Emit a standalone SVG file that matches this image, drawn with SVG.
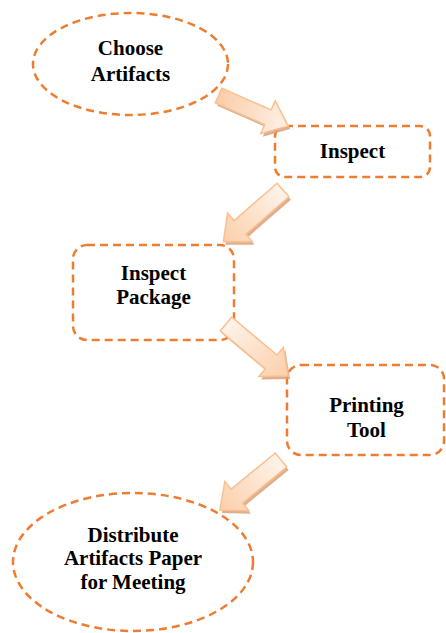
<svg xmlns="http://www.w3.org/2000/svg" width="446" height="633" viewBox="0 0 446 633">
<style>
.node{fill:#ffffff;stroke:#ED7D31;stroke-width:2.5;stroke-dasharray:8 5}
.lbl{font-family:"Liberation Serif","Times New Roman",serif;font-weight:bold;font-size:21px;fill:#000;text-anchor:middle}
.arr{stroke:#FAC090;stroke-width:1.5;stroke-linejoin:miter}
.shd{fill:#D9A07A;opacity:0.85}
</style>
<defs>
<linearGradient id="gTail" x1="0" y1="0" x2="1" y2="0">
<stop offset="0" stop-color="#FBCDA8"/>
<stop offset="1" stop-color="#FEF1E7"/>
</linearGradient>
<linearGradient id="gHead" x1="0" y1="0" x2="1" y2="0">
<stop offset="0" stop-color="#FEF3EA"/>
<stop offset="1" stop-color="#FBCFAA"/>
</linearGradient>
</defs>
<rect width="446" height="633" fill="#ffffff"/>
<g id="choose-artifacts">
<ellipse class="node" cx="130.5" cy="64" rx="97.5" ry="51"/>
<text class="lbl" x="130.5" y="55">Choose</text>
<text class="lbl" x="130.5" y="81">Artifacts</text>
</g>
<g id="inspect">
<rect class="node" x="275" y="126" width="155" height="51" rx="10"/>
<text class="lbl" x="352.5" y="158">Inspect</text>
</g>
<g id="inspect-package">
<rect class="node" x="73" y="245" width="161" height="95" rx="14"/>
<text class="lbl" x="153.5" y="280">Inspect</text>
<text class="lbl" x="153.5" y="304">Package</text>
</g>
<g id="printing-tool">
<rect class="node" x="287" y="365" width="157" height="90" rx="14"/>
<text class="lbl" x="366.5" y="412">Printing</text>
<text class="lbl" x="366.5" y="437">Tool</text>
</g>
<g id="distribute">
<ellipse class="node" cx="133" cy="562" rx="120" ry="69"/>
<text class="lbl" x="133" y="542">Distribute</text>
<text class="lbl" x="133" y="565">Artifacts Paper</text>
<text class="lbl" x="133" y="589">for Meeting</text>
</g>
<g id="connectors">
<g transform="translate(218.5,95.5) rotate(23.7)">
<path class="shd" transform="rotate(-23.7) translate(2,3) rotate(23.7)" d="M0,-8 L54,-8 L54,-18 L76,0 L54,18 L54,8 L0,8 Z"/>
<path class="arr" fill="url(#gTail)" d="M0,-8 L54,-8 L54,-18 L76,0 L54,18 L54,8 L0,8 Z"/>
</g>
<g transform="translate(283,190) rotate(139)">
<path class="shd" transform="rotate(-139) translate(2,3) rotate(139)" d="M0,-9 L57,-9 L57,-19 L79,0 L57,19 L57,9 L0,9 Z"/>
<path class="arr" fill="url(#gHead)" d="M0,-9 L57,-9 L57,-19 L79,0 L57,19 L57,9 L0,9 Z"/>
</g>
<g transform="translate(226,324) rotate(40)">
<path class="shd" transform="rotate(-40) translate(2,3) rotate(40)" d="M0,-9 L59,-9 L59,-19 L81,0 L59,19 L59,9 L0,9 Z"/>
<path class="arr" fill="url(#gHead)" d="M0,-9 L59,-9 L59,-19 L81,0 L59,19 L59,9 L0,9 Z"/>
</g>
<g transform="translate(281,460) rotate(140.7)">
<path class="shd" transform="rotate(-140.7) translate(2,3) rotate(140.7)" d="M0,-9 L57,-9 L57,-19 L79,0 L57,19 L57,9 L0,9 Z"/>
<path class="arr" fill="url(#gHead)" d="M0,-9 L57,-9 L57,-19 L79,0 L57,19 L57,9 L0,9 Z"/>
</g>
</g>
</svg>
